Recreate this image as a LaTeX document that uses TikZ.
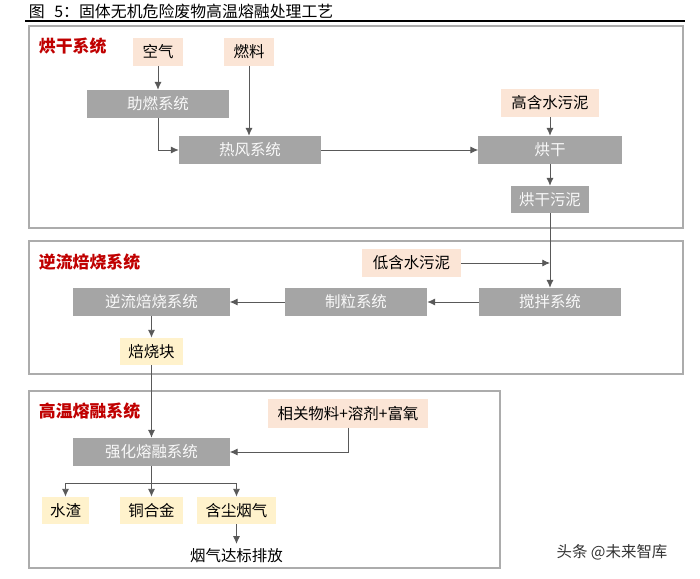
\documentclass[tikz,border=0pt]{standalone}
\usepackage{fontspec}
\setmainfont{Noto Sans CJK SC}
\usetikzlibrary{positioning}
\usetikzlibrary{arrows.meta}
\usetikzlibrary{shadows}
\definecolor{boxgray}{HTML}{A5A5A5}
\definecolor{peach}{HTML}{FBE5D6}
\definecolor{lightyellow}{HTML}{FFF2CC}
\definecolor{titlered}{HTML}{C00000}
\definecolor{arrowgray}{HTML}{595959}
\tikzset{%
        sysbox/.style={fill=boxgray, text=white!95!gray, inner sep=0pt, minimum height=0.7cm, font=\fontsize{11}{13}\selectfont},
        inbox/.style={fill=peach, text=black, inner sep=0pt, minimum height=0.7cm, font=\fontsize{11}{13}\selectfont},
        outbox/.style={fill=lightyellow, text=black, inner sep=0pt, minimum height=0.68cm, font=\fontsize{11}{13}\selectfont},
        arr/.style={arrowgray, line width=0.6pt, -{Latex[length=5.5pt,width=5pt]}},
        frame/.style={draw=gray!65, line width=1.3pt, fill=white, drop shadow={shadow xshift=1pt, shadow yshift=-1pt, opacity=0.25}},
        frametitle/.style={text=titlered, font=\fontsize{12}{14}\selectfont\bfseries, anchor=west}
        }

\begin{document}
\begin{tikzpicture}[x=0.025cm,y=-0.025cm]
\useasboundingbox (0,0) rectangle (700,579);
\node [anchor=west, font=\fontsize{11.3}{13}\selectfont] (title) at (24,11.5) {图\hspace{0.6em}5：固体无机危险废物高温熔融处理工艺};
\draw[black, line width=0.9pt] (25,21) -- (685,21);

\draw[frame] (29,26) rectangle (683,228);
\draw[frame] (29,241) rectangle (683,374);
\draw[frame] (29,391) rectangle (500,568);

\node [frametitle] (t1) at (34,46) {烘干系统};
\node [frametitle] (t2) at (34,262) {逆流焙烧系统};
\node [frametitle] (t3) at (34,411) {高温熔融系统};

% drying
\node [inbox, minimum width=1.25cm] (kongqi) at (158,52) {空气};
\node [inbox, minimum width=1.225cm] (ranliao) at (249,52) {燃料};
\node [sysbox, minimum width=3.55cm] (zhuran) at (158,104) {助燃系统};
\node [sysbox, minimum width=3.55cm] (refeng) at (250,150) {热风系统};
\node [inbox, minimum width=2.45cm] (gaohanshui) at (550,103) {高含水污泥};
\node [sysbox, minimum width=3.575cm] (honggan) at (550,150) {烘干};
\node [sysbox, minimum width=1.95cm, minimum height=0.675cm] (hgwuni) at (550,199.5) {烘干污泥};

% roasting
\node [inbox, minimum width=2.475cm] (dihanshui) at (411.5,263) {低含水污泥};
\node [sysbox, minimum width=3.55cm] (jiaoban) at (550,302) {搅拌系统};
\node [sysbox, minimum width=3.55cm] (zhili) at (356,302) {制粒系统};
\node [sysbox, minimum width=3.9cm] (niliu) at (151.5,302) {逆流焙烧系统};
\node [outbox, minimum width=1.575cm] (beishao) at (151.5,351.5) {焙烧块};

% melting
\node [inbox, minimum width=4cm] (xiangguan) at (348,413.5) {相关物料+溶剂+富氧};
\node [sysbox, minimum width=3.9cm] (qianghua) at (151.5,452) {强化熔融系统};
\node [outbox, minimum width=1.175cm] (shuizha) at (65.5,510.5) {水渣};
\node [outbox, minimum width=1.575cm] (tonghejin) at (151.5,510.5) {铜合金};
\node [outbox, minimum width=1.95cm] (hanchen) at (236.5,510.5) {含尘烟气};
\node [font=\fontsize{11}{13}\selectfont] (paifang) at (236.5,556) {烟气达标排放};
\coordinate (fen) at (151.5,483);

\node [font=\fontsize{11}{13}\selectfont, text=black!80] (mark) at (612,552) {头条 @未来智库};

\draw[arr] (kongqi) -- (zhuran);
\draw[arr] (ranliao.south) -- (ranliao.south |- refeng.north);
\draw[arr] (zhuran.south) |- (refeng.west);
\draw[arr] (refeng) -- (honggan);
\draw[arr] (gaohanshui) -- (honggan);
\draw[arr] (honggan) -- (hgwuni);
\draw[arr] (hgwuni) -- (jiaoban);
\draw[arr] (dihanshui.east) -- (dihanshui.east -| hgwuni.south);
\draw[arr] (jiaoban) -- (zhili);
\draw[arr] (zhili) -- (niliu);
\draw[arr] (niliu) -- (beishao);
\draw[arr] (beishao) -- (qianghua);
\draw[arr] (xiangguan.south) |- (qianghua.east);
\draw[arrowgray, line width=0.6pt] (qianghua.south) -- (fen);
\draw[arr] (fen) -| (shuizha);
\draw[arr] (fen) -- (tonghejin);
\draw[arr] (fen) -| (hanchen);
\draw[arr] (hanchen) -- (paifang);
\end{tikzpicture}
\end{document}
